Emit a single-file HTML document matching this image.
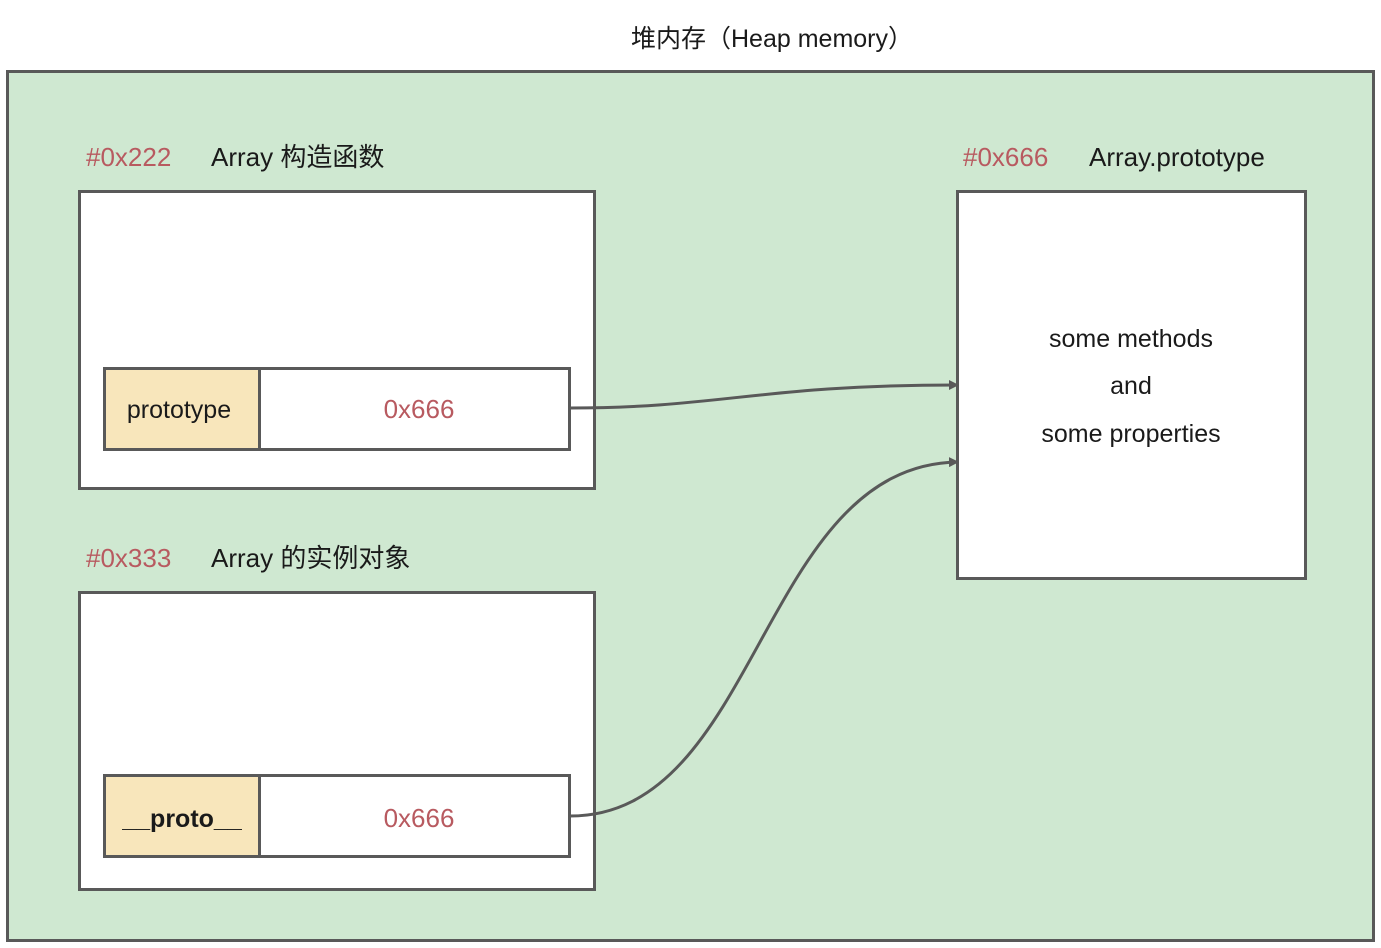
<!DOCTYPE html>
<html><head><meta charset="utf-8"><style>
html,body{margin:0;padding:0;background:#fff;}
svg{display:block}
text{font-family:"Liberation Sans","Noto Sans CJK SC",sans-serif;}
</style></head><body>
<svg width="1381" height="948" viewBox="0 0 1381 948" xmlns="http://www.w3.org/2000/svg">
<defs><marker id="a" markerWidth="10" markerHeight="10" refX="9" refY="5" orient="auto" markerUnits="userSpaceOnUse"><path d="M0,0 L10,5 L0,10 Z" fill="#595959"/></marker></defs>
<text x="772" y="47" font-size="25" text-anchor="middle" fill="#1a1a1a">堆内存（Heap memory）</text>
<rect x="7.5" y="71.5" width="1366" height="869" fill="#cfe8d1" stroke="#595959" stroke-width="3"/>
<text x="86" y="166" font-size="26" fill="#b85a60">#0x222</text>
<text x="211" y="166" font-size="26" fill="#1a1a1a">Array 构造函数</text>
<rect x="79.5" y="191.5" width="515" height="297" fill="#fff" stroke="#595959" stroke-width="3"/>
<rect x="104.5" y="368.5" width="155" height="81" fill="#f8e6bb" stroke="#595959" stroke-width="3"/>
<rect x="259.5" y="368.5" width="310" height="81" fill="#fff" stroke="#595959" stroke-width="3"/>
<text x="179" y="418" font-size="25" text-anchor="middle" fill="#1a1a1a">prototype</text>
<text x="419" y="418" font-size="26" text-anchor="middle" fill="#b85a60">0x666</text>
<text x="86" y="567" font-size="26" fill="#b85a60">#0x333</text>
<text x="211" y="567" font-size="26" fill="#1a1a1a">Array 的实例对象</text>
<rect x="79.5" y="592.5" width="515" height="297" fill="#fff" stroke="#595959" stroke-width="3"/>
<rect x="104.5" y="775.5" width="155" height="81" fill="#f8e6bb" stroke="#595959" stroke-width="3"/>
<rect x="259.5" y="775.5" width="310" height="81" fill="#fff" stroke="#595959" stroke-width="3"/>
<text x="182" y="827" font-size="25" font-weight="bold" text-anchor="middle" fill="#1a1a1a">__proto__</text>
<text x="419" y="827" font-size="26" text-anchor="middle" fill="#b85a60">0x666</text>
<text x="963" y="166" font-size="26" fill="#b85a60">#0x666</text>
<text x="1089" y="166" font-size="26" fill="#1a1a1a">Array.prototype</text>
<rect x="957.5" y="191.5" width="348" height="387" fill="#fff" stroke="#595959" stroke-width="3"/>
<text x="1131" y="347" font-size="25" text-anchor="middle" fill="#1a1a1a">some methods</text>
<text x="1131" y="394" font-size="25" text-anchor="middle" fill="#1a1a1a">and</text>
<text x="1131" y="442" font-size="25" text-anchor="middle" fill="#1a1a1a">some properties</text>
<path d="M570,408 C720,408 760,385 958,385" fill="none" stroke="#595959" stroke-width="3" marker-end="url(#a)"/>
<path d="M570,816 C760,816 760,465 958,462" fill="none" stroke="#595959" stroke-width="3" marker-end="url(#a)"/>
</svg>
</body></html>
